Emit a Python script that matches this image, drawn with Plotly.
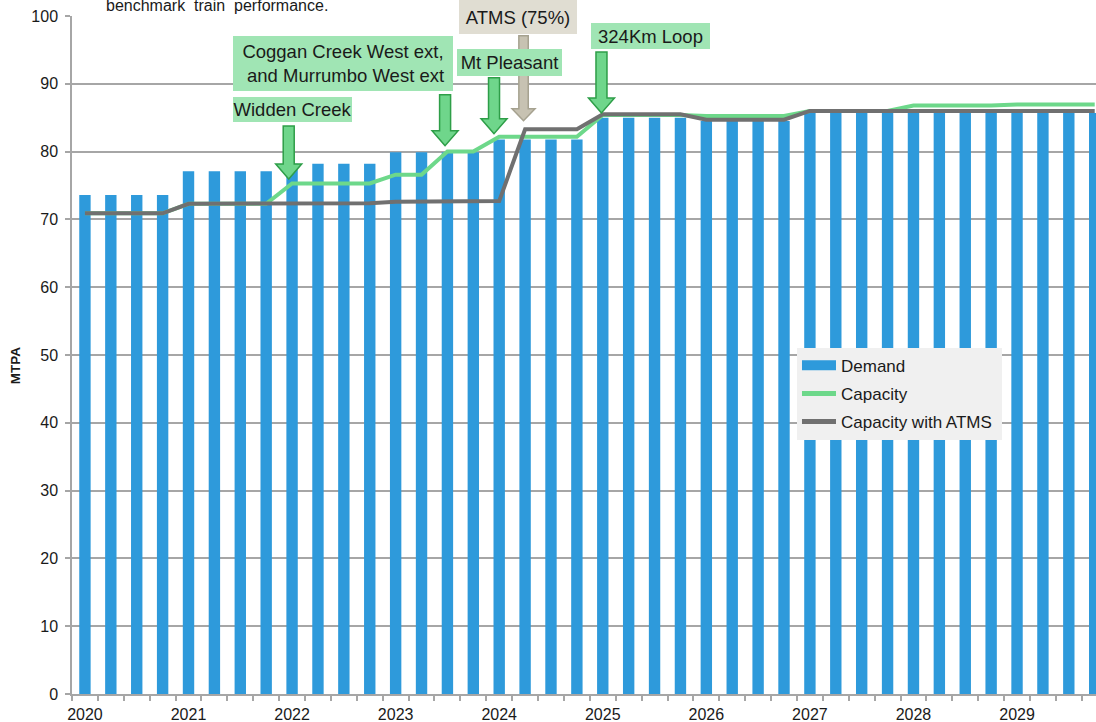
import plotly.graph_objects as go

# ---------------- data ----------------
years = ["2020", "2021", "2022", "2023", "2024", "2025", "2026", "2027", "2028", "2029"]
quarter_idx = list(range(40))  # one bar per quarter, 2020 Q1 .. 2029 Q4

demand = [73.6, 73.6, 73.6, 73.6,
          77.1, 77.1, 77.1, 77.1,
          78.2, 78.2, 78.2, 78.2,
          79.9, 79.9, 79.9, 79.9,
          81.8, 81.8, 81.8, 81.8,
          85.0, 85.0, 85.0, 85.0,
          84.5, 84.5, 84.5, 84.5,
          85.7, 85.7, 85.7, 85.7,
          85.7, 85.7, 85.7, 85.7,
          85.7, 85.7, 85.7, 85.7]

capacity = [70.9, 70.9, 70.9, 70.9,
            72.3, 72.3, 72.3, 72.3,
            75.3, 75.3, 75.3, 75.3,
            76.6, 76.6, 80.0, 80.0,
            82.2, 82.2, 82.2, 82.2,
            85.4, 85.4, 85.4, 85.4,
            85.25, 85.25, 85.25, 85.25,
            86.0, 86.0, 86.0, 86.0,
            86.8, 86.8, 86.8, 86.8,
            86.95, 86.95, 86.95, 86.95]

capacity_atms = [70.9, 70.9, 70.9, 70.9,
                 72.3, 72.3, 72.3, 72.3,
                 72.4, 72.4, 72.4, 72.4,
                 72.6, 72.6, 72.6, 72.6,
                 72.7, 83.3, 83.3, 83.3,
                 85.5, 85.5, 85.5, 85.5,
                 84.7, 84.7, 84.7, 84.7,
                 86.0, 86.0, 86.0, 86.0,
                 86.0, 86.0, 86.0, 86.0,
                 86.0, 86.0, 86.0, 86.0]

# events: label text, arrow tip (quarter index, value)
event_labels = ["Widden Creek", "Coggan Creek West ext,<br> and Murrumbo West ext",
                "Mt Pleasant", "ATMS (75%)", "324Km Loop"]
event_tip_x = [7.87, 13.91, 15.8, 16.94, 19.95]
event_tip_y = [75.96, 80.87, 82.64, 84.56, 85.7]
label_x = [8.03, 9.98, 16.4, 16.73, 21.85]
label_y = [86.25, 93.0, 93.2, 99.9, 97.1]

# ---------------- styles ----------------
BLUE = "#2E9ADB"
GREEN = "#6DD88A"
GREY = "#707070"
GRID = "#A6A6A6"
TXT = "#1A1A1A"
FONT = "Liberation Sans, Arial, sans-serif"

label_style = [
    dict(w=119, h=25, bg="#A0E5B4"),
    dict(w=220, h=55, bg="#A0E5B4"),
    dict(w=105, h=27, bg="#A0E5B4"),
    dict(w=118, h=34, bg="#E0DDD2"),
    dict(w=119, h=26, bg="#A0E5B4"),
]
arrow_style = [
    dict(L=53, sh=5.5, hh=13, hl=15, fill="#6FD68B", line="#2E9E48"),
    dict(L=51, sh=5.5, hh=13, hl=15, fill="#6FD68B", line="#2E9E48"),
    dict(L=56, sh=5.5, hh=13, hl=15, fill="#6FD68B", line="#2E9E48"),
    dict(L=85, sh=4.7, hh=11.5, hl=12, fill="#C7C2B2", line="#A6A290"),
    dict(L=61, sh=5.5, hh=13, hl=15, fill="#6FD68B", line="#2E9E48"),
]

fig = go.Figure()
fig.add_trace(go.Bar(x=quarter_idx, y=demand, marker=dict(color=BLUE, line=dict(width=0)),
                     name="Demand", showlegend=False))
fig.add_trace(go.Scatter(x=quarter_idx, y=capacity, mode="lines",
                         line=dict(color=GREEN, width=4), name="Capacity", showlegend=False))
fig.add_trace(go.Scatter(x=quarter_idx, y=capacity_atms, mode="lines",
                         line=dict(color=GREY, width=4), name="Capacity with ATMS", showlegend=False))
# legend entries
fig.add_trace(go.Scatter(x=[None], y=[None], mode="lines", line=dict(color=BLUE, width=10),
                         name="Demand", legendgroup="a"))
fig.add_trace(go.Scatter(x=[None], y=[None], mode="lines", line=dict(color=GREEN, width=5),
                         name="Capacity", legendgroup="b"))
fig.add_trace(go.Scatter(x=[None], y=[None], mode="lines", line=dict(color=GREY, width=5),
                         name="Capacity with ATMS\u00a0", legendgroup="c"))

shapes = []
annotations = []
for i, txt in enumerate(event_labels):
    a = arrow_style[i]
    path = (f"M0,0 L{-a['hh']},{a['hl']} L{-a['sh']},{a['hl']} L{-a['sh']},{a['L']} "
            f"L{a['sh']},{a['L']} L{a['sh']},{a['hl']} L{a['hh']},{a['hl']} Z")
    shapes.append(dict(type="path", xref="x", yref="y", xsizemode="pixel", ysizemode="pixel",
                       xanchor=event_tip_x[i], yanchor=event_tip_y[i], path=path,
                       fillcolor=a["fill"], line=dict(color=a["line"], width=1.5), layer="above"))
    s = label_style[i]
    annotations.append(dict(x=label_x[i], y=label_y[i], xref="x", yref="y", text=txt,
                            showarrow=False, width=s["w"], height=s["h"], bgcolor=s["bg"],
                            borderpad=0, borderwidth=0, align="center",
                            font=dict(size=18.5, color=TXT, family=FONT)))

annotations.append(dict(x=0.03125, y=1.0155, xref="paper", yref="paper", xanchor="left",
                        yanchor="middle", text="benchmark  train  performance.", showarrow=False,
                        font=dict(size=16, color=TXT, family=FONT)))
annotations.append(dict(x=-0.0645, y=0.484, xref="paper", yref="paper", text="<b>MTPA</b>",
                        textangle=-90, showarrow=False, font=dict(size=13.5, color=TXT, family=FONT)))

year_pos = quarter_idx[::4]
boundaries = [q - 0.5 for q in quarter_idx] + [quarter_idx[-1] + 0.5]

fig.update_layout(
    width=1096, height=722,
    margin=dict(l=72, r=0, t=16, b=28),
    paper_bgcolor="white", plot_bgcolor="white",
    font=dict(family=FONT, size=16, color=TXT),
    bargap=0.56,
    shapes=shapes, annotations=annotations,
    legend=dict(x=0.708, y=0.5107, xanchor="left", yanchor="top", bgcolor="#F0F0F0",
                borderwidth=0, traceorder="grouped", tracegroupgap=3, itemwidth=34,
                font=dict(size=17, color=TXT, family=FONT)),
    xaxis=dict(range=[-0.5, 39.05], tickmode="array", tickvals=year_pos, ticktext=years,
               ticks="", showgrid=False, zeroline=False, showline=True, linecolor=GRID, linewidth=1.5,
               tickfont=dict(size=16, color=TXT), ticklabelstandoff=5,
               minor=dict(tickmode="array", tickvals=boundaries, ticks="outside", ticklen=5,
                          tickwidth=1.5, tickcolor=GRID, showgrid=False)),
    yaxis=dict(range=[0, 100], dtick=10, showgrid=True, gridcolor=GRID, gridwidth=1.5,
               zeroline=False, showline=True, linecolor=GRID, linewidth=1.5,
               ticks="outside", ticklen=5, tickwidth=1.5, tickcolor=GRID, ticklabelstandoff=4,
               tickfont=dict(size=16, color=TXT)),
)

fig.write_html("out.html", config={"displayModeBar": False},
               post_script="document.body.style.margin='0';document.body.style.overflow='hidden';")
